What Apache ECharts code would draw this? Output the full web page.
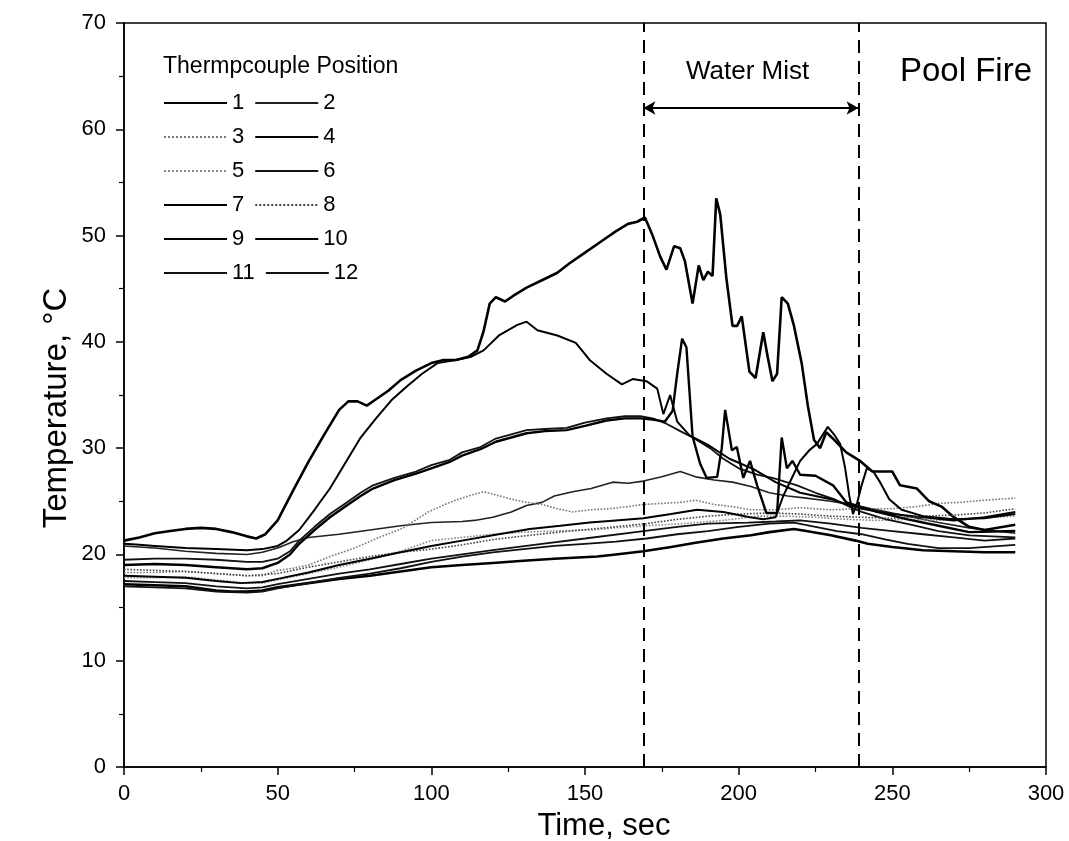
<!DOCTYPE html>
<html><head><meta charset="utf-8">
<script src="https://cdn.jsdelivr.net/npm/echarts@6/dist/echarts.min.js"></script>
<style>html,body{margin:0;padding:0;background:#fff}#c{width:1069px;height:841px}</style>
</head><body><div id="c"></div>
<script>
// ---- data: [time (s), temperature (°C)] ----
const tc1 = [[0,17.2],[10,17.1],[20,17.0],[30,16.6],[35,16.5],[40,16.5],[45,16.6],[50,16.9],[60,17.3],[70,17.7],[80,18.0],[90,18.4],[100,18.8],[110,19.0],[120,19.2],[130,19.4],[140,19.6],[154,19.8],[160,20.0],[169,20.3],[178,20.7],[186,21.1],[195,21.5],[204,21.8],[210,22.1],[218,22.4],[222,22.2],[230,21.8],[238,21.3],[242,21.0],[250,20.7],[260,20.4],[270,20.3],[280,20.2],[290,20.2]];
const tc2 = [[0,20.8],[10,20.6],[20,20.3],[30,20.1],[40,20.0],[45,20.2],[50,20.6],[55,21.2],[60,21.6],[70,21.9],[80,22.3],[90,22.7],[100,23.0],[110,23.1],[114,23.2],[120,23.5],[126,24.0],[131,24.6],[136,24.9],[140,25.5],[146,25.9],[152,26.2],[159,26.8],[164,26.7],[169,26.9],[175,27.3],[181,27.8],[186,27.3],[192,27.0],[198,26.8],[204,26.4],[210,25.8],[216,25.5],[222,25.3],[230,25.0],[238,24.6],[245,24.2],[255,23.6],[265,23.0],[275,22.5],[290,22.0]];
const tc3 = [[0,18.3],[10,18.3],[20,18.4],[30,18.2],[40,18.0],[45,18.0],[50,18.5],[55,18.7],[60,19.0],[67,19.8],[75,20.6],[83,21.6],[91,22.5],[99,24.0],[106,24.9],[112,25.5],[117,25.9],[121,25.6],[126,25.2],[131,24.9],[136,24.7],[141,24.3],[146,24.0],[152,24.2],[158,24.3],[164,24.5],[169,24.7],[175,24.8],[181,24.9],[186,25.1],[192,24.7],[198,24.5],[204,24.2],[212,24.2],[220,24.4],[230,24.2],[240,24.3],[250,24.3],[258,24.5],[265,24.8],[272,24.9],[280,25.1],[290,25.3]];
const tc4 = [[0,21.3],[5,21.6],[10,22.0],[15,22.2],[20,22.4],[25,22.5],[30,22.4],[35,22.1],[40,21.7],[43,21.5],[46,21.9],[50,23.2],[55,26.0],[60,28.7],[65,31.2],[70,33.6],[73,34.4],[76,34.4],[79,34.0],[82,34.6],[86,35.4],[90,36.4],[95,37.3],[100,38.0],[104,38.3],[108,38.3],[112,38.6],[115,39.2],[117,41.0],[119,43.6],[121,44.2],[124,43.8],[127,44.4],[131,45.1],[136,45.8],[141,46.5],[145,47.4],[150,48.4],[155,49.4],[160,50.4],[164,51.1],[167,51.3],[169.5,51.7],[172,50.0],[174.5,48.0],[176.5,46.8],[179,49.0],[181,48.8],[182.5,47.6],[185,43.6],[187,47.2],[188.5,45.8],[190,46.6],[191.5,46.2],[192.7,53.5],[194,52.0],[196,46.0],[198,41.5],[199.5,41.5],[201,42.4],[203.5,37.2],[205.5,36.6],[208,40.9],[209.5,38.5],[211,36.3],[212.5,37.0],[214,44.2],[216,43.6],[218,41.5],[220.5,38.0],[222.5,34.0],[224.5,30.8],[226.5,30.0],[228.5,31.5],[231,30.8],[235,29.6],[239.5,28.8],[243.5,27.8],[250,27.8],[252.5,26.5],[258,26.2],[262,25.0],[266,24.5],[270,23.5],[275,22.6],[280,22.3],[290,22.8]];
const tc5 = [[0,17.8],[10,17.8],[20,17.9],[30,17.6],[40,17.3],[45,17.3],[50,17.6],[60,18.2],[70,18.8],[80,19.5],[90,20.3],[100,21.3],[110,21.6],[120,21.9],[130,22.1],[140,22.2],[152,22.3],[160,22.5],[170,22.7],[182,22.9],[195,23.2],[206,23.6],[215,23.6],[225,23.5],[235,23.3],[245,23.2],[255,23.3],[265,23.2],[275,23.4],[290,23.6]];
const tc6 = [[0,19.5],[10,19.6],[20,19.6],[30,19.5],[40,19.3],[45,19.3],[50,19.6],[54,20.3],[57,21.3],[62,22.6],[67,23.8],[72,24.8],[77,25.8],[81,26.5],[88,27.2],[95,27.8],[100,28.4],[106,28.9],[110,29.6],[116,30.1],[121,30.9],[126,31.3],[131,31.7],[137,31.8],[144,31.9],[150,32.4],[157,32.8],[163,33.0],[168,33.0],[172,32.8],[176.5,32.3],[181,31.6],[185,31.0],[190.7,30.0],[195,29.0],[200,28.1],[206,27.5],[211,27.2],[219,26.5],[225,25.8],[231,25.2],[236,24.5],[240,24.0],[248,23.3],[256,22.8],[265,22.2],[275,21.8],[290,21.6]];
const tc7 = [[0,21.0],[5,20.9],[10,20.8],[15,20.7],[20,20.6],[30,20.5],[40,20.4],[45,20.5],[50,20.8],[53,21.3],[57,22.3],[62,24.2],[67,26.2],[72,28.6],[77,31.0],[82,32.8],[87,34.5],[92,35.8],[97,37.0],[102,38.0],[108,38.3],[113,38.6],[117,39.2],[122,40.6],[128,41.6],[131,41.9],[134.5,41.1],[141,40.6],[147,39.9],[151.5,38.3],[157,37.0],[162,36.0],[165.5,36.5],[170,36.3],[173.5,35.6],[175.5,33.2],[177.7,35.0],[180,32.5],[184,31.2],[190,30.3],[197,29.0],[205,28.0],[212,26.8],[220,25.8],[230,25.2],[240,24.3],[250,23.8],[260,23.5],[270,23.2],[280,23.5],[290,24.0]];
const tc8 = [[0,18.6],[10,18.5],[20,18.4],[30,18.2],[40,18.0],[50,18.2],[60,18.8],[70,19.3],[80,19.8],[90,20.2],[100,20.5],[110,20.9],[120,21.4],[132,21.8],[145,22.2],[160,22.6],[170,22.9],[180,23.3],[190,23.6],[200,23.8],[210,23.9],[220,23.8],[230,23.6],[240,23.5],[250,23.4],[260,23.6],[270,23.7],[280,23.9],[290,24.3]];
const tc9 = [[0,19.0],[10,19.1],[20,19.0],[30,18.8],[40,18.6],[45,18.7],[50,19.2],[54,20.0],[57,21.0],[62,22.3],[67,23.5],[72,24.5],[77,25.5],[81,26.2],[88,27.0],[95,27.6],[100,28.1],[106,28.7],[110,29.3],[116,29.9],[121,30.6],[126,31.0],[131,31.4],[137,31.6],[144,31.7],[150,32.1],[157,32.6],[163,32.8],[168,32.8],[172,32.7],[176,32.5],[178.5,33.5],[180,37.0],[181.6,40.3],[183,39.5],[185,31.1],[187.5,28.5],[189.6,27.2],[193,27.3],[194.5,30.0],[195.6,33.6],[197.8,29.8],[199.4,30.1],[201.5,27.2],[203.7,28.8],[206,26.5],[209,23.9],[212.5,23.9],[214,31.0],[215.7,28.1],[217.5,28.8],[220,27.5],[225,27.4],[230.7,26.5],[235,24.9],[239.5,24.5],[245,24.0],[255,23.3],[265,22.7],[275,22.1],[290,22.2]];
const tc10 = [[0,18.0],[10,17.9],[20,17.8],[30,17.5],[38,17.3],[45,17.4],[50,17.7],[60,18.3],[70,19.0],[80,19.6],[90,20.2],[100,20.8],[110,21.3],[120,21.8],[132,22.4],[142,22.7],[151.5,23.0],[160,23.2],[169,23.4],[178,23.8],[186.5,24.2],[195,24.0],[203.7,23.5],[208,23.3],[212,23.5],[214.5,25.5],[217,27.0],[220,28.8],[223,29.8],[225.5,30.4],[229,32.0],[231,31.3],[233,30.4],[234.6,28.2],[236,25.5],[237.2,23.8],[238.5,24.8],[240,26.5],[241.7,28.1],[243.8,27.8],[246,26.8],[249,25.2],[253,24.2],[260,23.6],[270,23.3],[280,23.4],[290,23.8]];
const tc11 = [[0,17.5],[10,17.4],[20,17.3],[30,17.0],[40,16.8],[45,16.9],[50,17.2],[60,17.7],[70,18.2],[80,18.6],[90,19.1],[100,19.6],[110,20.0],[120,20.4],[136,21.0],[150,21.5],[169,22.2],[180,22.6],[190,22.9],[203,23.0],[212,23.1],[220,23.2],[230,22.9],[240,22.5],[250,22.2],[260,21.9],[270,21.6],[280,21.3],[290,21.5]];
const tc12 = [[0,17.0],[10,16.9],[20,16.8],[30,16.5],[40,16.4],[45,16.5],[50,16.8],[60,17.3],[70,17.8],[80,18.2],[90,18.7],[100,19.3],[110,19.8],[120,20.2],[130,20.5],[140,20.8],[150,21.0],[160,21.2],[170,21.5],[180,21.9],[190,22.2],[200,22.6],[210,22.9],[218,23.0],[225,22.6],[232,22.2],[240,21.9],[248,21.4],[255,21.0],[265,20.6],[275,20.6],[290,20.9]];
const positions = ['1','2','3','4','5','6','7','8','9','10','11','12'];
const mistStart = 169, mistEnd = 239, mistArrowLevel = 62;

const seriesData = [tc1,tc2,tc3,tc4,tc5,tc6,tc7,tc8,tc9,tc10,tc11,tc12];
// line styles (width, type, colour) per thermocouple
const styles = [
  {width:2.6,type:'solid',color:'#000'},
  {width:1.6,type:'solid',color:'#222'},
  {width:1.6,type:'dotted',color:'#777'},
  {width:2.6,type:'solid',color:'#000'},
  {width:1.6,type:'dotted',color:'#888'},
  {width:1.8,type:'solid',color:'#111'},
  {width:2.0,type:'solid',color:'#000'},
  {width:1.6,type:'dotted',color:'#444'},
  {width:2.4,type:'solid',color:'#000'},
  {width:2.0,type:'solid',color:'#000'},
  {width:1.8,type:'solid',color:'#111'},
  {width:1.8,type:'solid',color:'#111'}
];

const FONT = 'Liberation Sans, Arial, sans-serif';
const series = seriesData.map((d,i)=>({
  name: positions[i], type:'line', data:d, symbol:'none', smooth:false,
  lineStyle: styles[i], itemStyle:{color:styles[i].color}, z: 3
}));
series[0].markLine = {
  silent:true, symbol:'none', animation:false, label:{show:false},
  lineStyle:{color:'#000', width:2, type:[13,8]},
  data:[{xAxis:mistStart},{xAxis:mistEnd}]
};
series[1].markLine = {
  silent:true, symbol:['arrow','arrow'], symbolSize:[10,12], animation:false, label:{show:false},
  lineStyle:{color:'#000', width:2, type:'solid'},
  data:[[{coord:[mistStart,mistArrowLevel]},{coord:[mistEnd,mistArrowLevel]}]]
};

const chart = echarts.init(document.getElementById('c'), null, {renderer:'canvas'});
chart.setOption({
  animation:false,
  backgroundColor:'#fff',
  grid:{left:124, right:23, top:23, bottom:74, show:true, borderColor:'#000', borderWidth:1.5, backgroundColor:'transparent'},
  legend:{
    data:positions, left:158, top:86, width:235, orient:'horizontal',
    itemWidth:63, itemHeight:14, itemGap:10,
    itemStyle:{opacity:0},
    textStyle:{fontFamily:FONT, fontSize:22, color:'#000', lineHeight:24},
    selectedMode:false
  },
  xAxis:{
    type:'value', min:0, max:300, interval:50,
    axisLine:{lineStyle:{color:'#000', width:1.5}},
    axisTick:{inside:false, length:8, lineStyle:{color:'#000', width:1.5}},
    minorTick:{show:true, splitNumber:2, length:5, lineStyle:{color:'#000', width:1.2}},
    splitLine:{show:false},
    axisLabel:{fontFamily:FONT, fontSize:22, color:'#000', margin:16}
  },
  yAxis:{
    type:'value', min:0, max:70, interval:10,
    axisLine:{lineStyle:{color:'#000', width:1.5}},
    axisTick:{inside:false, length:8, lineStyle:{color:'#000', width:1.5}},
    minorTick:{show:true, splitNumber:2, length:5, lineStyle:{color:'#000', width:1.2}},
    splitLine:{show:false},
    axisLabel:{fontFamily:FONT, fontSize:22, color:'#000', margin:18}
  },
  graphic:[
    {type:'text', x:57, y:408, rotation:Math.PI/2, style:{text:'Temperature, °C', font:'33px '+FONT, fill:'#000', align:'center', verticalAlign:'middle'}},
    {type:'text', x:604, y:826, style:{text:'Time, sec', font:'31px '+FONT, fill:'#000', align:'center', verticalAlign:'middle'}},
    {type:'text', left:163, top:55, style:{text:'Thermpcouple Position', font:'23px '+FONT, fill:'#000'}},
    {type:'text', left:686, top:59, style:{text:'Water Mist', font:'26px '+FONT, fill:'#000'}},
    {type:'text', left:900, top:55, style:{text:'Pool Fire', font:'33px '+FONT, fill:'#000'}}
  ],
  series: series
});
</script>
</body></html>
